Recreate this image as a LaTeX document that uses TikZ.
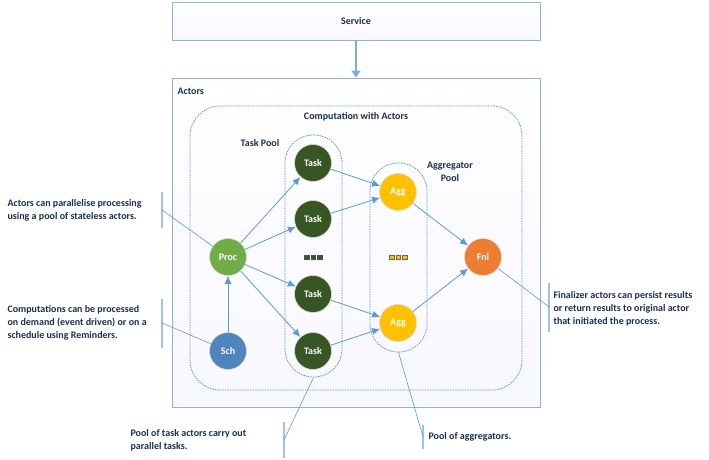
\documentclass[tikz,border=0pt]{standalone}
\usepackage{fontspec}
\setmainfont{Carlito}
\usepackage{xcolor}
\usepackage{tikz}
\usetikzlibrary{shapes,arrows,arrows.meta,positioning,fit,backgrounds}
\definecolor{linkblue}{HTML}{5B9BD5}
\definecolor{boxedge}{HTML}{8EB4DC}
\definecolor{barblue}{HTML}{9DC3E6}
\definecolor{inkblue}{HTML}{1B2F4F}
\definecolor{taskgreen}{HTML}{375623}
\definecolor{procgreen}{HTML}{70AD47}
\definecolor{schblue}{HTML}{4F85BC}
\definecolor{aggyellow}{HTML}{FFC000}
\definecolor{fnlorange}{HTML}{ED7D31}
\tikzset{
    every node/.style={font=\fontsize{10}{13}\selectfont\bfseries, text=inkblue},
    panel/.style={draw=boxedge, line width=0.9pt, top color=white, bottom color=blue!3, inner sep=0pt},
    pool/.style={draw=linkblue, dashed, dash pattern=on 1.5pt off 1pt, line width=0.8pt, inner sep=0pt},
    actor/.style={circle, minimum size=37pt, inner sep=0pt, text=white, draw=black!15, line width=0.6pt},
    flow/.style={draw=linkblue, line width=0.8pt, -{Latex[length=8pt,width=7pt]}},
    bar/.style={draw=barblue, line width=1.6pt},
    lead/.style={draw=linkblue, line width=0.6pt},
    note/.style={anchor=west, align=left}
}
\newcommand{\dotrow}[2]{\tikz[baseline=-2pt]{\foreach \i in {0,1,2}
    \draw[fill=#1, draw=#2, line width=0.4pt] (\i*6.5pt,-2.2pt) rectangle ++(4.4pt,4.4pt);}}

\begin{document}
\begin{tikzpicture}[x=1pt,y=-1pt]
            \useasboundingbox (0,0) rectangle (709,460);

            % Service and actors panels
            \node[panel, minimum width=368pt, minimum height=38pt] (service) at (356,21) {Service};
            \node[panel, minimum width=368pt, minimum height=329pt] (actors) at (356,242.5) {};
            \node[anchor=west] (actorslabel) at (174,91) {Actors};
            \draw[draw=linkblue!80, line width=1.8pt, -{Triangle[length=7pt,width=9pt]}] (service) -- (actors);

            % Dashed groups
            \node[pool, rounded corners=30pt, minimum width=332pt, minimum height=284pt] (comp) at (356,248) {};
            \node (complabel) at (356,117) {Computation with Actors};
            \node[pool, rounded corners=28pt, minimum width=57pt, minimum height=242pt] (taskpool) at (313.5,256) {};
            \node (tasklabel) at (260,143) {Task Pool};
            \node[pool, rounded corners=28pt, minimum width=57pt, minimum height=189pt] (aggpool) at (398.5,257.5) {};
            \node[align=center] (agglabel) at (450,172) {Aggregator\\Pool};

            % Actors
            \node[actor, fill=procgreen] (proc) at (228,257) {Proc};
            \node[actor, fill=schblue] (sch) at (228,351) {Sch};
            \node[actor, fill=taskgreen] (task1) at (313,163) {Task};
            \node[actor, fill=taskgreen] (task2) at (313,219) {Task};
            \node[actor, fill=taskgreen] (task3) at (313,294) {Task};
            \node[actor, fill=taskgreen] (task4) at (313,351) {Task};
            \node (taskdots) at (313,257) {\dotrow{taskgreen}{black!70}};
            \node[actor, fill=aggyellow] (agg1) at (398,192) {Agg};
            \node[actor, fill=aggyellow] (agg2) at (398,323) {Agg};
            \node (aggdots) at (398,257) {\dotrow{aggyellow}{black!60}};
            \node[actor, fill=fnlorange] (fnl) at (483,257) {Fnl};

            % Message flow
            \draw[flow] (sch) -- (proc);
            \foreach \t in {1,2,3,4}
                \draw[flow] (proc) -- (task\t);
            \draw[flow] (task1) -- (agg1);
            \draw[flow] (task2) -- (agg1);
            \draw[flow] (task3) -- (agg2);
            \draw[flow] (task4) -- (agg2);
            \draw[flow] (agg1) -- (fnl);
            \draw[flow] (agg2) -- (fnl);

            % Callouts
            \coordinate (c1) at (162,210);
            \draw[bar] (162,192) -- (162,228);
            \draw[lead] (c1) -- (proc);
            \node[note] (n1) at (4,210) {Actors can parallelise processing\\using a pool of stateless actors.};

            \coordinate (c2) at (162,323);
            \draw[bar] (162,299) -- (162,348);
            \draw[lead] (c2) -- (sch);
            \node[note] (n2) at (4,323) {Computations can be processed\\on demand (event driven) or on a\\schedule using Reminders.};

            \coordinate (c3) at (549,307);
            \draw[bar] (549,283) -- (549,332);
            \draw[lead] (fnl) -- (c3);
            \node[note] (n3) at (550,309) {Finalizer actors can persist results\\or return results to original actor\\that initiated the process.};

            \coordinate (c4) at (284,440);
            \draw[bar] (284,422) -- (284,458);
            \draw[lead] (c4) -- (taskpool.south);
            \node[note] (n4) at (127,440) {Pool of task actors carry out\\parallel tasks.};

            \coordinate (c5) at (423,437);
            \draw[bar] (423,425) -- (423,449);
            \draw[lead] (c5) -- (aggpool.south);
            \node[note] (n5) at (425,437) {Pool of aggregators.};
        \end{tikzpicture}
\end{document}
